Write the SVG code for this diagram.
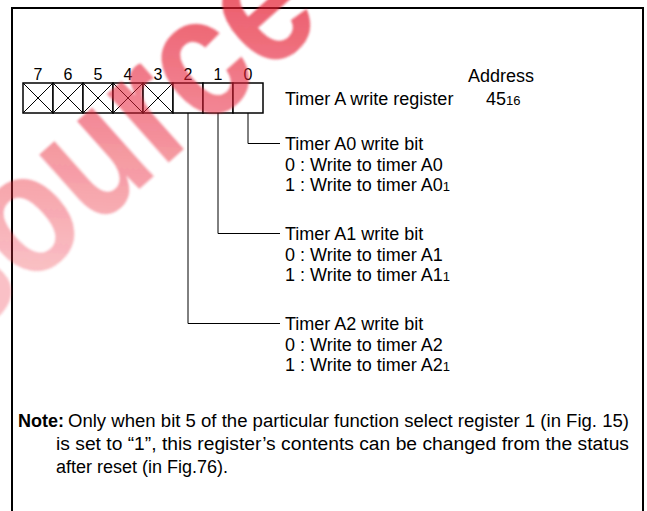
<svg xmlns="http://www.w3.org/2000/svg" width="647" height="511" viewBox="0 0 647 511">
<style>
text{font-family:"Liberation Sans",Arial,sans-serif;fill:#000}
.t{font-size:18px}
.n{font-size:16px;text-anchor:middle}
.s{font-size:13px}
.cell{fill:#fff;stroke:#000;stroke-width:1.5}
.x{stroke:#000;stroke-width:1}
.c{fill:none;stroke:#000;stroke-width:1}
text.wm{font-family:"Liberation Sans",Arial,sans-serif;font-weight:bold;font-size:175px;fill:url(#wg)}
</style>
<defs>
<linearGradient id="wg" gradientUnits="userSpaceOnUse" x1="0" y1="280" x2="280" y2="0">
<stop offset="0" stop-color="#ee3344" stop-opacity="0.3"/>
<stop offset="1" stop-color="#e0102a" stop-opacity="0.85"/>
</linearGradient>
<filter id="soft" x="-10%" y="-10%" width="120%" height="120%"><feGaussianBlur stdDeviation="1.2"/></filter>
</defs>
<rect width="647" height="511" fill="#fff"/>
<rect id="frame" x="12" y="8" width="631" height="520" fill="none" stroke="#000" stroke-width="2"/>
<g id="register">
<rect class="cell" x="23" y="83" width="30" height="30"/>
<rect class="cell" x="53" y="83" width="30" height="30"/>
<rect class="cell" x="83" y="83" width="30" height="30"/>
<rect class="cell" x="113" y="83" width="30" height="30"/>
<rect class="cell" x="143" y="83" width="30" height="30"/>
<rect class="cell" x="173" y="83" width="30" height="30"/>
<rect class="cell" x="203" y="83" width="30" height="30"/>
<rect class="cell" x="233" y="83" width="30" height="30"/>
<path class="x" d="M23 83L53 113M53 83L23 113M53 83L83 113M83 83L53 113M83 83L113 113M113 83L83 113M113 83L143 113M143 83L113 113M143 83L173 113M173 83L143 113"/>
<text class="n" x="38" y="80">7</text>
<text class="n" x="68" y="80">6</text>
<text class="n" x="98" y="80">5</text>
<text class="n" x="128" y="80">4</text>
<text class="n" x="158" y="80">3</text>
<text class="n" x="188" y="80">2</text>
<text class="n" x="218" y="80">1</text>
<text class="n" x="248" y="80">0</text>
</g>
<g id="title">
<text class="t" x="285" y="105">Timer A write register</text>
<text class="t" x="468" y="82">Address</text>
<text class="t" x="486" y="105">45<tspan class="s">16</tspan></text>
</g>
<g id="connectors">
<path class="c" d="M248 113V143.5H280"/>
<path class="c" d="M218 113V233.5H280"/>
<path class="c" d="M188 113V323.5H280"/>
</g>
<g id="bit0">
<text class="t" x="285" y="150">Timer A0 write bit</text>
<text class="t" x="285" y="170.5">0 : Write to timer A0</text>
<text class="t" x="285" y="191">1 : Write to timer A0<tspan class="s">1</tspan></text>
</g>
<g id="bit1">
<text class="t" x="285" y="240">Timer A1 write bit</text>
<text class="t" x="285" y="260.5">0 : Write to timer A1</text>
<text class="t" x="285" y="281">1 : Write to timer A1<tspan class="s">1</tspan></text>
</g>
<g id="bit2">
<text class="t" x="285" y="330">Timer A2 write bit</text>
<text class="t" x="285" y="350.5">0 : Write to timer A2</text>
<text class="t" x="285" y="371">1 : Write to timer A2<tspan class="s">1</tspan></text>
</g>
<g id="note">
<text class="t" x="18" y="427" font-weight="bold">Note:</text>
<text class="t" x="68" y="427" textLength="561" lengthAdjust="spacingAndGlyphs">Only when bit 5 of the particular function select register 1 (in Fig. 15)</text>
<text class="t" x="56" y="450" textLength="573" lengthAdjust="spacingAndGlyphs">is set to “1”, this register’s contents can be changed from the status</text>
<text class="t" x="56" y="473">after reset (in Fig.76).</text>
</g>
<text id="watermark" class="wm" x="-35" y="344" transform="rotate(-41.7 -35 344)" textLength="484" lengthAdjust="spacingAndGlyphs" filter="url(#soft)">source</text>
</svg>
